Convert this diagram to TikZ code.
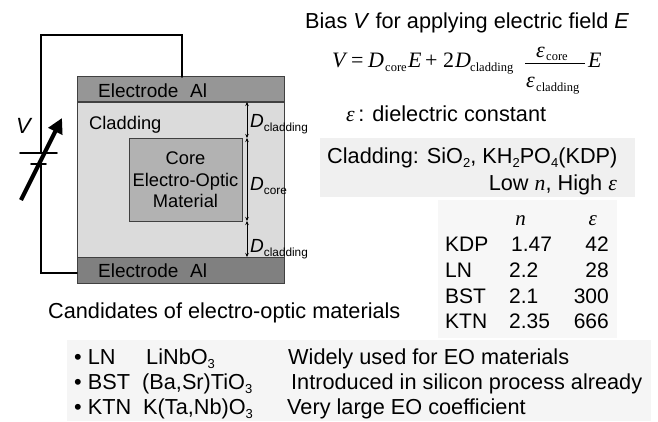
\documentclass[tikz,border=0pt]{standalone}
\usepackage{fontspec}
\setmainfont{Liberation Sans}
\newfontfamily\serifm{Liberation Serif}
\usetikzlibrary{arrows.meta}
\newcommand{\subt}[1]{\raisebox{-0.2em}{\fontsize{13}{14}\selectfont #1}}
\newcommand{\dsub}[1]{\raisebox{-0.22em}{\fontsize{11.8}{14}\selectfont #1}}
\newcommand{\eps}{{\serifm\itshape ε}}
\newcommand{\serit}[1]{{\serifm\itshape #1}}
\tikzset{
  x=1pt,y=-1pt,
  wire/.style={line width=1.8pt,line cap=round,line join=miter},
  layer/.style={draw=black!75,line width=0.7pt,inner sep=0pt},
  dim/.style={line width=0.8pt,{Stealth[length=4pt,width=3.5pt]}-{Stealth[length=4pt,width=3.5pt]}},
  txt/.style={font=\fontsize{#1}{19}\selectfont,inner sep=0pt,anchor=base west},
  txt/.default=21.7,
  tbl/.style={font=\fontsize{21}{19}\selectfont,inner sep=0pt,anchor=base east},
  math/.style={font=\fontsize{22}{24}\selectfont\serifm\itshape,inner sep=0pt,anchor=base west},
  msub/.style={font=\fontsize{12.5}{14}\selectfont\serifm,inner sep=0pt,anchor=base west}
}
\begin{document}
\begin{tikzpicture}
\useasboundingbox (0,0) rectangle (658,421);
\fill[white] (0,0) rectangle (658,421);
% panels
\fill[black!6] (320,138) rectangle (635,197);
\fill[black!3] (438,200) rectangle (617,338);
\fill[black!4] (67,340) rectangle (651,421);
% device
\node[layer,fill=black!14,minimum width=207pt,minimum height=155pt,anchor=north west] (clad) at (77,102) {};
\node[layer,fill=black!41,minimum width=207pt,minimum height=25pt,anchor=south west] (top) at (77,102) {};
\node[layer,fill=black!50,minimum width=207pt,minimum height=26pt,anchor=north west] (bot) at (77,257) {};
\node[layer,fill=black!30,minimum width=113pt,minimum height=83pt,anchor=north west] (core) at (129,138) {};
% wires and battery
\coordinate (pa) at (20,153); \coordinate (pb) at (57,153);
\coordinate (qa) at (31,164); \coordinate (qb) at (46,164);
\coordinate (pm) at (41,153); \coordinate (qm) at (41,164);
\coordinate (tw) at (182,77);
\coordinate (bw) at (77,273);
\draw[wire] (pm) -- (41,35) -- (182,35) -- (tw);
\draw[wire] (qm) -- (41,273) -- (bw);
\draw[wire] (pa) -- (pb);
\draw[wire] (qa) -- (qb);
\coordinate (as) at (21,200); \coordinate (ae) at (62,118);
\draw[line width=4.2pt,-{Triangle[length=15pt,width=15pt]}] (as) -- (ae);
% dimensions
\coordinate (d0) at (247,102); \coordinate (d1) at (247,138);
\coordinate (d2) at (247,221); \coordinate (d3) at (247,257);
\draw[dim] (d0) -- (d1);
\draw[dim] (d1) -- (d2);
\draw[dim] (d2) -- (d3);
% labels
\node[txt=19] (t1) at (98,97) {Electrode};
\node[txt=19] (t1b) at (190,97) {Al};
\node[txt=19] (t2) at (98,277) {Electrode};
\node[txt=19] (t2b) at (190,277) {Al};
\node[txt=18.3] (t3) at (89,129) {Cladding};
\node[align=center,font=\fontsize{18.3}{21.5}\selectfont,inner sep=0pt] (t4) at (185.5,180) {Core\\Electro-Optic\\Material};
\node[txt=22,font=\fontsize{22}{24}\selectfont\itshape] (t5) at (16,133) {V};
\node[txt=19] (d1l) at (250,127) {\textit{D}\dsub{cladding}};
\node[txt=19] (d2l) at (250,190) {\textit{D}\dsub{core}};
\node[txt=19] (d3l) at (250,252) {\textit{D}\dsub{cladding}};
% heading
\node[txt] (h) at (305,28) {Bias \textit{V} for applying electric field \textit{E}};
% equation
\node[math] (e1) at (332,67) {V};
\node[math,font=\fontsize{22}{24}\selectfont\serifm] (e2) at (351,67) {=};
\node[math] (e3) at (368,67) {D};
\node[msub] (e4) at (385,71) {core};
\node[math] (e5) at (408,67) {E};
\node[math,font=\fontsize{22}{24}\selectfont\serifm] (e6) at (425,67) {+};
\node[math,font=\fontsize{22}{24}\selectfont\serifm] (e7) at (443,67) {2};
\node[math] (e8) at (455,67) {D};
\node[msub] (e9) at (470,71) {cladding};
\node[math] (e10) at (536,57) {ε};
\node[msub] (e11) at (546,60) {core};
\node[math] (e12) at (526,87) {ε};
\node[msub] (e13) at (536,91) {cladding};
\coordinate (fa) at (525,63); \coordinate (fb) at (585,63);
\draw[line width=0.7pt] (fa) -- (fb);
\node[math] (e14) at (588,67) {E};
\node[txt] (diel) at (346,121) {\eps\,: dielectric constant};
% cladding panel
\node[txt] (c1) at (327,163) {Cladding: SiO\subt{2}, KH\subt{2}PO\subt{4}(KDP)};
\node[txt,anchor=base east] (c2) at (617,190) {Low \serit{n}, High \eps};
% table
\node[tbl,font=\fontsize{21}{19}\selectfont\serifm\itshape] (hn) at (526,225) {n};
\node[tbl,font=\fontsize{21}{19}\selectfont\serifm\itshape] (he) at (597,225) {ε};
\foreach \n/\a/\b/\c/\y/\bx in {r1/KDP/1.47/42/251/511,r2/LN/2.2/28/277/509,r3/BST/2.1/300/303/509,r4/KTN/2.35/666/328/509}{
  \node[txt=21] (\n a) at (445,\y) {\a};
  \node[txt=21] (\n b) at (\bx,\y) {\b};
  \node[tbl] (\n c) at (609,\y) {\c};
}
\node[txt] (cand) at (48,318) {Candidates of electro-optic materials};
% list
\node[txt] (l1a) at (74,364) {• LN};
\node[txt] (l1b) at (146,364) {LiNbO\subt{3}};
\node[txt] (l1c) at (288,364) {Widely used for EO materials};
\node[txt] (l2a) at (74,389) {• BST};
\node[txt] (l2b) at (142,389) {(Ba,Sr)TiO\subt{3}};
\node[txt] (l2c) at (291,389) {Introduced in silicon process already};
\node[txt] (l3a) at (74,414) {• KTN};
\node[txt] (l3b) at (143,414) {K(Ta,Nb)O\subt{3}};
\node[txt] (l3c) at (287,414) {Very large EO coefficient};
\end{tikzpicture}
\end{document}
